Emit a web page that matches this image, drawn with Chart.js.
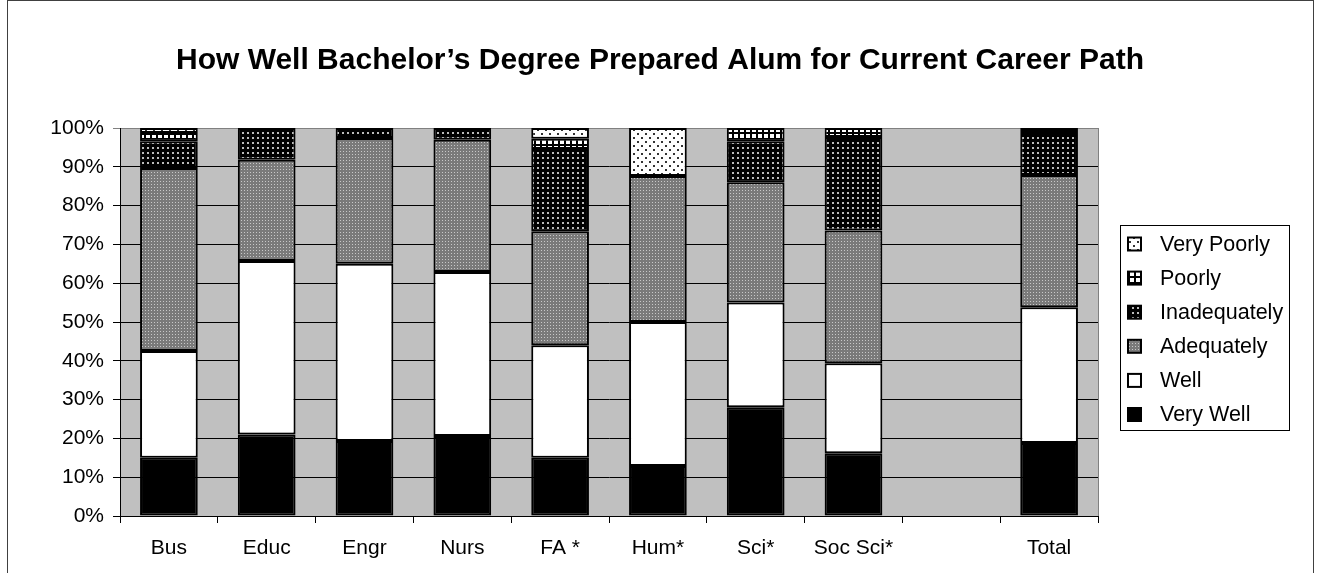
<!DOCTYPE html>
<html>
<head>
<meta charset="utf-8">
<script src="https://cdn.jsdelivr.net/npm/chart.js@4.4.0/dist/chart.umd.min.js"></script>
<style>
html, body { margin: 0; padding: 0; background: #fff; }
</style>
</head>
<body>
<canvas id="BarChart" width="1321" height="573"></canvas>
<script>
const chartTitle = 'How Well Bachelor\u2019s Degree Prepared Alum for Current Career Path';
const categories = ['Bus', 'Educ', 'Engr', 'Nurs', 'FA *', 'Hum*', 'Sci*', 'Soc Sci*', '', 'Total'];
const yTicks = [0, 10, 20, 30, 40, 50, 60, 70, 80, 90, 100];

// percent of alums in each rating (stacked bottom to top)
const veryWell     = [15.0, 21.0, 19.3, 20.6, 15.0, 12.9, 28.0, 16.2, null, 18.8];
const well         = [27.5, 44.7, 45.7, 42.3, 29.0, 37.1, 27.0, 23.2, null, 35.0];
const adequately   = [47.2, 26.1, 32.4, 34.1, 29.4, 37.6, 31.0, 34.2, null, 34.1];
const inadequately = [ 6.9,  8.2,  2.6,  3.0, 21.2,  0.0, 10.6, 24.1, null, 10.3];
const poorly       = [ 2.1,  0.0,  0.0,  0.0,  2.6,  0.0,  3.4,  2.3, null,  0.8];
const veryPoorly   = [ 1.3,  0.0,  0.0,  0.0,  2.8, 12.4,  0.0,  0.0, null,  1.0];

const FONT = 'Arial, "Liberation Sans", sans-serif';

const ctx = document.getElementById('BarChart').getContext('2d');

function tile(w, h, bg, fg, rects) {
    const c = document.createElement('canvas');
    c.width = w;
    c.height = h;
    const g = c.getContext('2d');
    g.fillStyle = bg;
    g.fillRect(0, 0, w, h);
    g.fillStyle = fg;
    rects.forEach(r => g.fillRect(r[0], r[1], r[2], r[3]));
    return ctx.createPattern(c, 'repeat');
}

const fillVeryPoorly = tile(8, 8, '#ffffff', '#333333', [[1, 1, 2, 2], [5, 5, 2, 2]]);
const fillPoorly = tile(6, 6, '#ffffff', '#000000', [[0, 0, 6, 2], [0, 0, 2, 6]]);
const fillInadequately = tile(5, 5, '#000000', '#bbbbbb', [[2, 2, 2, 2]]);
const fillAdequately = tile(3, 3, '#7a7a7a', '#c8c8c8', [[1, 1, 1, 1]]);

// grey plot background, outer frame, title
const frame = {
    id: 'frame',
    beforeDraw(chart) {
        const a = chart.chartArea;
        const c = chart.ctx;
        c.save();
        c.fillStyle = '#c0c0c0';
        c.fillRect(a.left, a.top, a.right - a.left, a.bottom - a.top);
        c.strokeStyle = '#808080';
        c.lineWidth = 1;
        c.strokeRect(a.left + 0.5, a.top + 0.5, a.right - a.left, a.bottom - a.top);
        c.restore();
    },
    afterDraw(chart) {
        const c = chart.ctx;
        c.save();
        c.strokeStyle = '#404040';
        c.lineWidth = 1;
        c.strokeRect(7.5, 0.5, 1306, 600);
        c.fillStyle = '#000';
        c.font = 'bold 30px ' + FONT;
        c.textAlign = 'center';
        c.textBaseline = 'middle';
        c.fillText(chartTitle, 660, 61);
        c.restore();
    }
};

// legend box on the right, Very Poorly at the top
const boxLegend = {
    id: 'boxLegend',
    afterDraw(chart) {
        const c = chart.ctx;
        const items = chart.data.datasets.map(d => ({ label: d.label, fill: d.backgroundColor })).reverse();
        c.save();
        c.strokeStyle = '#000';
        c.lineWidth = 1;
        c.strokeRect(1120.5, 225.5, 169, 205);
        c.font = '21.5px ' + FONT;
        c.textBaseline = 'middle';
        items.forEach((it, k) => {
            const cy = 244 + k * 34.1;
            c.fillStyle = it.fill;
            c.fillRect(1128, cy - 6.5, 13, 13);
            c.lineWidth = 2;
            c.strokeRect(1128, cy - 6.5, 13, 13);
            c.fillStyle = '#000';
            c.fillText(it.label, 1160, cy + 1);
        });
        c.restore();
    }
};

function ds(label, data, fill) {
    return {
        label: label,
        data: data,
        backgroundColor: fill,
        borderColor: '#000',
        borderWidth: 2,
        borderSkipped: false,
        barPercentage: 0.59,
        categoryPercentage: 1.0
    };
}

new Chart(ctx, {
    type: 'bar',
    data: {
        labels: categories,
        datasets: [
            ds('Very Well', veryWell, '#000000'),
            ds('Well', well, '#ffffff'),
            ds('Adequately', adequately, fillAdequately),
            ds('Inadequately', inadequately, fillInadequately),
            ds('Poorly', poorly, fillPoorly),
            ds('Very Poorly', veryPoorly, fillVeryPoorly)
        ]
    },
    options: {
        responsive: false,
        animation: false,
        devicePixelRatio: 1,
        events: [],
        layout: { padding: { left: 0, right: 223, top: 128, bottom: 0 } },
        plugins: {
            legend: { display: false },
            tooltip: { enabled: false },
            title: { display: false }
        },
        scales: {
            x: {
                stacked: true,
                grid: { display: true, drawOnChartArea: false, drawTicks: true, tickLength: 7, color: '#000', offset: true },
                border: { display: true, color: '#000', width: 1 },
                ticks: { color: '#000', font: { family: FONT, size: 21 }, padding: 13, maxRotation: 0, autoSkip: false },
                afterFit(scale) { scale.height = 57; }
            },
            y: {
                stacked: true,
                min: 0,
                max: 100,
                afterBuildTicks(scale) { scale.ticks = yTicks.map(v => ({ value: v })); },
                grid: {
                    color: c => (c.tick && c.tick.value === 100 ? '#808080' : '#000'),
                    lineWidth: 1,
                    tickLength: 7,
                    drawTicks: true
                },
                border: { display: true, color: '#000', width: 1 },
                ticks: {
                    color: '#000',
                    font: { family: FONT, size: 21 },
                    padding: 9,
                    callback: v => v + '%'
                },
                afterFit(scale) { scale.width = 120; }
            }
        }
    },
    plugins: [frame, boxLegend]
});
</script>
</body>
</html>
